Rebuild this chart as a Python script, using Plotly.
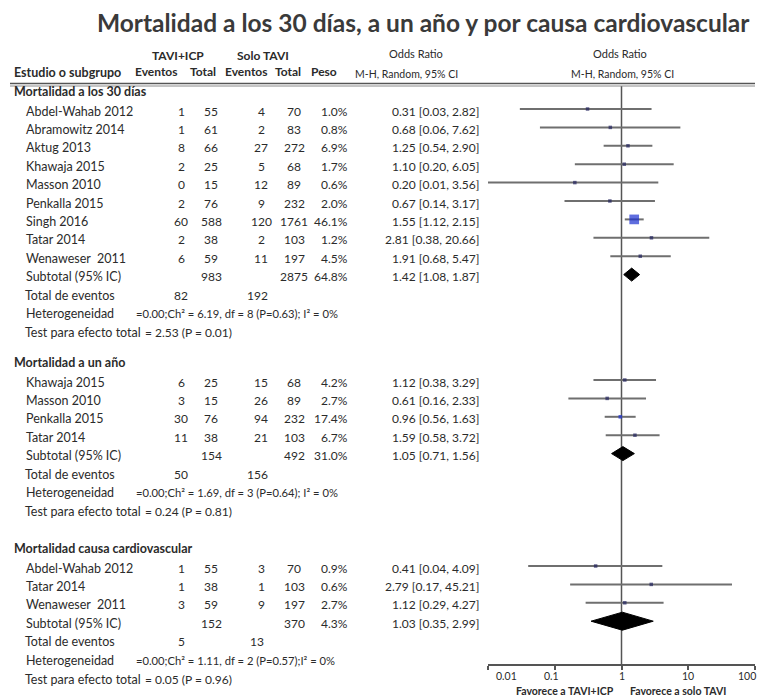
import math
import plotly.graph_objects as go

W, H = 761, 699
FONT = "Lato"
TXT = "#2b2b2b"

title = "Mortalidad a los 30 días, a un año y por causa cardiovascular"

# ---- Group 1: Mortalidad a los 30 días
g1_name = "Mortalidad a los 30 días"
g1_studies = ["Abdel-Wahab 2012", "Abramowitz 2014", "Aktug 2013", "Khawaja 2015", "Masson 2010",
              "Penkalla 2015", "Singh 2016", "Tatar 2014", "Wenaweser  2011"]
g1_ev1 = [1, 1, 8, 2, 0, 2, 60, 2, 6]
g1_tot1 = [55, 61, 66, 25, 15, 76, 588, 38, 59]
g1_ev2 = [4, 2, 27, 5, 12, 9, 120, 2, 11]
g1_tot2 = [70, 83, 272, 68, 89, 232, 1761, 103, 197]
g1_w = [1.0, 0.8, 6.9, 1.7, 0.6, 2.0, 46.1, 1.2, 4.5]
g1_or = [0.31, 0.68, 1.25, 1.10, 0.20, 0.67, 1.55, 2.81, 1.91]
g1_lo = [0.03, 0.06, 0.54, 0.20, 0.01, 0.14, 1.12, 0.38, 0.68]
g1_hi = [2.82, 7.62, 2.90, 6.05, 3.56, 3.17, 2.15, 20.66, 5.47]
g1_sub = [1.42, 1.08, 1.87]
g1_subtot = [983, 2875, 64.8]
g1_events = [82, 192]
g1_het = "=0.00;Ch² = 6.19, df = 8 (P=0.63); I² = 0%"
g1_test = "= 2.53 (P = 0.01)"

# ---- Group 2: Mortalidad a un año
g2_name = "Mortalidad a un año"
g2_studies = ["Khawaja 2015", "Masson 2010", "Penkalla 2015", "Tatar 2014"]
g2_ev1 = [6, 3, 30, 11]
g2_tot1 = [25, 15, 76, 38]
g2_ev2 = [15, 26, 94, 21]
g2_tot2 = [68, 89, 232, 103]
g2_w = [4.2, 2.7, 17.4, 6.7]
g2_or = [1.12, 0.61, 0.96, 1.59]
g2_lo = [0.38, 0.16, 0.56, 0.58]
g2_hi = [3.29, 2.33, 1.63, 3.72]
g2_sub = [1.05, 0.71, 1.56]
g2_subtot = [154, 492, 31.0]
g2_events = [50, 156]
g2_het = "=0.00;Ch² = 1.69, df = 3 (P=0.64); I² = 0%"
g2_test = "= 0.24 (P = 0.81)"

# ---- Group 3: Mortalidad causa cardiovascular
g3_name = "Mortalidad causa cardiovascular"
g3_studies = ["Abdel-Wahab 2012", "Tatar 2014", "Wenaweser  2011"]
g3_ev1 = [1, 1, 3]
g3_tot1 = [55, 38, 59]
g3_ev2 = [3, 1, 9]
g3_tot2 = [70, 103, 197]
g3_w = [0.9, 0.6, 2.7]
g3_or = [0.41, 2.79, 1.12]
g3_lo = [0.04, 0.17, 0.29]
g3_hi = [4.09, 45.21, 4.27]
g3_sub = [1.03, 0.35, 2.99]
g3_subtot = [152, 370, 4.3]
g3_events = [5, 13]
g3_het = "=0.00;Ch² = 1.11, df = 2 (P=0.57);I² = 0%"
g3_test = "= 0.05 (P = 0.96)"

tick_vals = [0.01, 0.1, 1, 10, 100]
tick_text = ["0.01", "0.1", "1", "10", "100"]
tick_label_shift = [18, -3, 0, 0, -8]

groups = [
    dict(name=g1_name, studies=g1_studies, ev1=g1_ev1, tot1=g1_tot1, ev2=g1_ev2, tot2=g1_tot2, w=g1_w,
         orr=g1_or, lo=g1_lo, hi=g1_hi, sub=g1_sub, subtot=g1_subtot, events=g1_events, het=g1_het,
         test=g1_test, y0=91, dh=6.5),
    dict(name=g2_name, studies=g2_studies, ev1=g2_ev1, tot1=g2_tot1, ev2=g2_ev2, tot2=g2_tot2, w=g2_w,
         orr=g2_or, lo=g2_lo, hi=g2_hi, sub=g2_sub, subtot=g2_subtot, events=g2_events, het=g2_het,
         test=g2_test, y0=362, dh=7),
    dict(name=g3_name, studies=g3_studies, ev1=g3_ev1, tot1=g3_tot1, ev2=g3_ev2, tot2=g3_tot2, w=g3_w,
         orr=g3_or, lo=g3_lo, hi=g3_hi, sub=g3_sub, subtot=g3_subtot, events=g3_events, het=g3_het,
         test=g3_test, y0=548, dh=9),
]

PITCH = 18.4
X_NAME_H, X_NAME = 12, 24
X_EV1, X_TOT1, X_EV2, X_TOT2, X_PESO = 181, 211, 261, 294, 350
X_OR = 481


def X(px):
    return px / W


ann = []


def text(x, y, s, size=12.5, anchor="left", bold=False, color=TXT):
    if bold:
        s = "<b>" + s + "</b>"
    ann.append(dict(x=X(x), y=y, xref="paper", yref="y", text=s, showarrow=False,
                    xanchor=anchor, align=anchor, yanchor="middle",
                    font=dict(family=FONT, size=size, color=color)))


fig = go.Figure()

# header
text(424, 22, title, size=24.5, anchor="center", bold=True, color="#3a3a3a")
text(178, 55, "TAVI+ICP", size=12, anchor="center", bold=True)
text(263, 55, "Solo TAVI", size=12, anchor="center", bold=True)
text(12, 72, "Estudio o subgrupo", size=12.5, bold=True)
text(156, 71, "Eventos", size=12, anchor="center", bold=True)
text(203, 71, "Total", size=12, anchor="center", bold=True)
text(246, 71, "Eventos", size=12, anchor="center", bold=True)
text(288, 71, "Total", size=12, anchor="center", bold=True)
text(324, 71, "Peso", size=12, anchor="center", bold=True)
text(416, 53, "Odds Ratio", size=11, anchor="center")
text(406, 74, "M-H, Random, 95% CI", size=10.5, anchor="center")
text(620, 53, "Odds Ratio", size=11, anchor="center")
text(622, 74, "M-H, Random, 95% CI", size=10.5, anchor="center")

ci_x, ci_y = [], []
mk_x, mk_y, mk_s, mk_c = [], [], [], []
for g in groups:
    y = g["y0"]
    text(X_NAME_H, y, g["name"], size=12.5, bold=True)
    y += 20
    for i, s in enumerate(g["studies"]):
        text(X_NAME, y, s)
        text(X_EV1, y, str(g["ev1"][i]), anchor="center", size=12)
        text(X_TOT1, y, str(g["tot1"][i]), anchor="center", size=12)
        text(X_EV2, y, str(g["ev2"][i]), anchor="center", size=12)
        text(X_TOT2, y, str(g["tot2"][i]), anchor="center", size=12)
        text(X_PESO, y, f"{g['w'][i]:.1f}%", anchor="right", size=12)
        text(X_OR, y, f"{g['orr'][i]:.2f} [{g['lo'][i]:.2f}, {g['hi'][i]:.2f}]", anchor="right", size=12)
        ci_x += [g["lo"][i], g["hi"][i], None]
        ci_y += [y - 2, y - 2, None]
        mk_x.append(g["orr"][i])
        mk_y.append(y - 2)
        mk_s.append(max(3.5, 0.21 * g["w"][i]))
        mk_c.append("#1b2fd0" if g["w"][i] > 10 else "#22235e")
        y += PITCH
    # subtotal
    text(X_NAME, y, "Subtotal (95% IC)")
    text(X_TOT1, y, str(g["subtot"][0]), anchor="center", size=12)
    text(X_TOT2, y, str(g["subtot"][1]), anchor="center", size=12)
    text(X_PESO, y, f"{g['subtot'][2]:.1f}%", anchor="right", size=12)
    e, lo, hi = g["sub"]
    text(X_OR, y, f"{e:.2f} [{lo:.2f}, {hi:.2f}]", anchor="right", size=12)
    yc = y - 2
    fig.add_trace(go.Scatter(x=[lo, e, hi, e, lo], y=[yc, yc - g["dh"], yc, yc + g["dh"], yc],
                             mode="lines", fill="toself", fillcolor="black",
                             line=dict(color="black", width=1), hoverinfo="skip", showlegend=False))
    y += 18.7
    text(X_NAME - 1, y, "Total de eventos")
    text(X_EV1, y, str(g["events"][0]), anchor="center", size=12)
    text(X_EV2 - 4, y, str(g["events"][1]), anchor="center", size=12)
    y += 18.4
    text(X_NAME, y, "Heterogeneidad")
    text(134, y, g["het"], size=11.2)
    y += 18.8
    text(X_NAME - 1, y, "Test para efecto total")
    text(143, y, g["test"], size=12)

fig.add_trace(go.Scatter(x=ci_x, y=ci_y, mode="lines", line=dict(color="#6f6f6f", width=2),
                         hoverinfo="skip", showlegend=False))
fig.add_trace(go.Scatter(x=mk_x, y=mk_y, mode="markers",
                         marker=dict(symbol="square", size=mk_s, color=mk_c, line=dict(width=0)),
                         hoverinfo="skip", showlegend=False))

# forest-axis tick labels (placed on the log axis scale)
for v, t, sh in zip(tick_vals, tick_text, tick_label_shift):
    ann.append(dict(x=math.log10(v), y=675.5, xref="x", yref="y", text=t, showarrow=False,
                    xanchor="center", yanchor="middle", xshift=sh,
                    font=dict(family=FONT, size=10.5, color=TXT)))

# axis labels
text(616, 691.3, "Favorece a TAVI+ICP", size=10.5, anchor="right", bold=True)
text(628, 691.3, "Favorece a solo TAVI", size=10.5, anchor="left", bold=True)

shapes = [
    dict(type="line", xref="paper", yref="y", x0=X(10), x1=X(755), y0=83.5, y1=83.5,
         line=dict(color="#555555", width=1.5)),
    dict(type="line", xref="paper", yref="y", x0=X(10), x1=X(755), y0=86, y1=86,
         line=dict(color="#8a8a8a", width=1)),
    dict(type="line", xref="x", yref="y", x0=1, x1=1, y0=86, y1=665,
         line=dict(color="#555555", width=1.5), layer="below"),
]

fig.update_layout(
    width=W, height=H, margin=dict(l=0, r=0, t=0, b=0),
    paper_bgcolor="white", plot_bgcolor="white",
    annotations=ann, shapes=shapes, showlegend=False,
    xaxis=dict(type="log", range=[-2, 2], domain=[X(488), X(755)], anchor="free",
               position=(H - 665) / H, showline=True, linecolor="#555555", linewidth=1.5,
               ticks="outside", ticklen=4, tickwidth=1.5, tickcolor="#555555",
               tickvals=tick_vals, showticklabels=False, showgrid=False, zeroline=False),
    yaxis=dict(range=[H, 0], domain=[0, 1], visible=False, showgrid=False, zeroline=False),
)

fig.write_html("out.html", config={"displayModeBar": False},
               post_script="document.body.style.margin='0';document.body.style.overflow='hidden';")
